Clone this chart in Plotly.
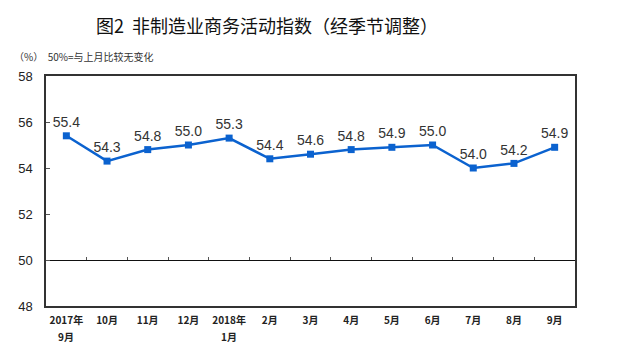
import plotly.graph_objects as go

categories_line1 = ["2017年", "10月", "11月", "12月", "2018年", "2月", "3月",
                    "4月", "5月", "6月", "7月", "8月", "9月"]
categories_line2 = ["9月", "", "", "", "1月", "", "", "", "", "", "", "", ""]
values = [55.4, 54.3, 54.8, 55.0, 55.3, 54.4, 54.6, 54.8, 54.9, 55.0, 54.0, 54.2, 54.9]
y_ticks = [48, 50, 52, 54, 56, 58]

n = len(values)
idx = list(range(n))
boundaries = [i + 0.5 for i in range(n - 1)]

fig = go.Figure()
fig.add_trace(go.Scatter(
    x=idx, y=values, mode="lines+markers+text",
    text=[f"{v:.1f}" for v in values], textposition="top center",
    textfont=dict(family="Liberation Sans, Arial", size=14, color="#333333"),
    line=dict(color="#0b62cf", width=2.5),
    marker=dict(symbol="square", size=7, color="#0b62cf"),
    showlegend=False, cliponaxis=False,
))
# invisible trace on the secondary x-axis used for the 50-line tick marks
fig.add_trace(go.Scatter(x=[idx[0]], y=[values[0]], xaxis="x2", mode="markers",
                         marker=dict(opacity=0), showlegend=False, hoverinfo="skip"))

annotations = [
    dict(text="图2  非制造业商务活动指数（经季节调整）", xref="paper", yref="paper",
         x=0.0, xshift=48, y=1.0, yshift=51, xanchor="left", yanchor="middle", showarrow=False,
         font=dict(size=18, color="#111111", family="Noto Sans CJK SC")),
    dict(text="（%）  50%=与上月比较无变化", xref="paper", yref="paper",
         x=0, xshift=-34, y=1.0, yshift=20, xanchor="left", yanchor="middle", showarrow=False,
         font=dict(size=10, color="#333333", family="Noto Sans CJK SC")),
]
for i, t in zip(idx, categories_line2):
    if t:
        annotations.append(dict(
            text=f"<b>{t}</b>", x=i, xref="x", y=0, yref="paper", yshift=-30,
            xanchor="center", yanchor="middle", showarrow=False,
            font=dict(size=10, color="#222222", family="Noto Sans CJK SC")))

fig.update_layout(
    width=624, height=352,
    margin=dict(l=46, r=49, t=76, b=46),
    paper_bgcolor="white", plot_bgcolor="white",
    font=dict(family="Noto Sans CJK SC", color="#222222"),
    xaxis=dict(
        range=[-0.5, n - 0.5], tickmode="array", tickvals=idx,
        ticktext=[f"<b>{t}</b>" for t in categories_line1],
        showgrid=False, zeroline=False, showline=True, linecolor="#333333", linewidth=1.5,
        mirror=True, ticks="", ticklabelstandoff=4, tickfont=dict(size=10, color="#222222"),
    ),
    xaxis2=dict(
        overlaying="x", matches="x", anchor="free", position=0.2, side="top",
        tickmode="array", tickvals=boundaries, ticktext=[""] * len(boundaries),
        showline=True, linecolor="#111111", linewidth=1.2,
        ticks="outside", ticklen=3, tickcolor="#555555", showgrid=False, zeroline=False,
    ),
    yaxis=dict(
        range=[48, 58], tickmode="array", tickvals=y_ticks,
        showgrid=False, zeroline=False, showline=True, linecolor="#333333", linewidth=1.5,
        mirror=True, ticks="inside", ticklen=4, tickcolor="#555555", ticklabelstandoff=9,
        tickfont=dict(family="Liberation Sans, Arial", size=13, color="#222222"),
    ),
    annotations=annotations,
)

fig.write_html("out.html")
